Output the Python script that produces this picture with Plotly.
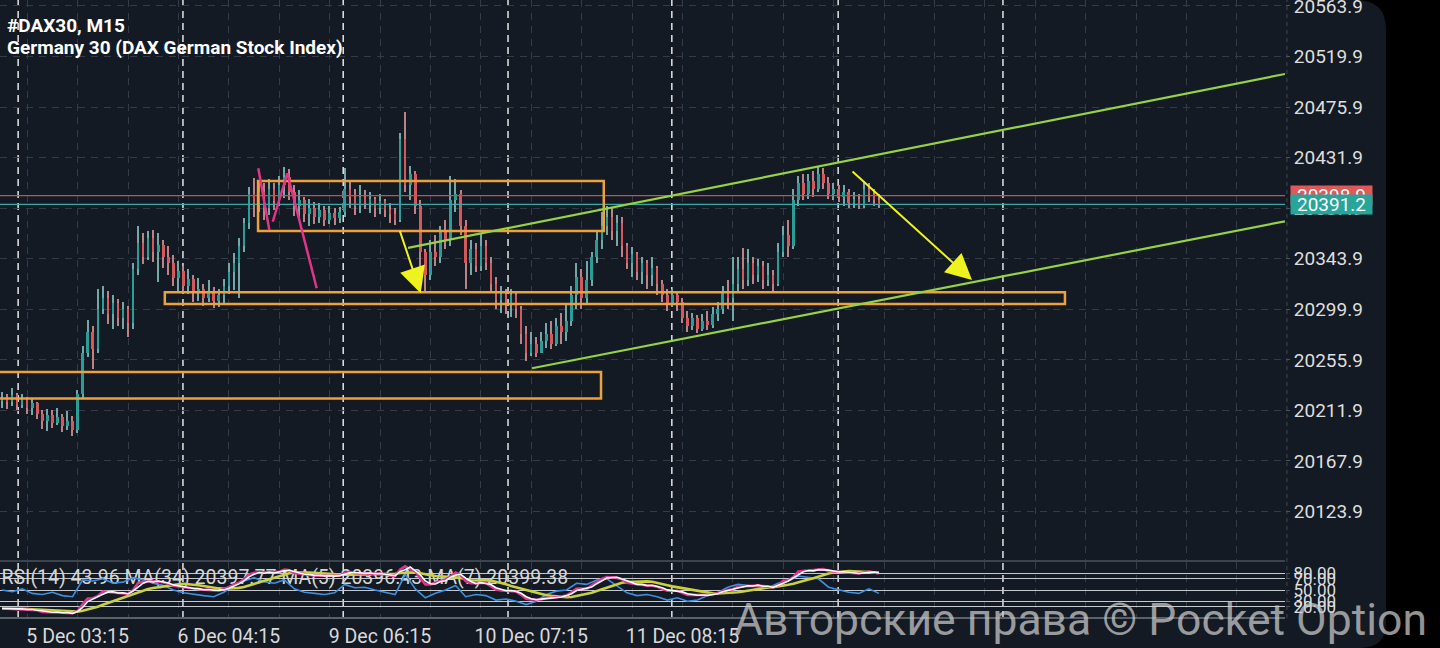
import plotly.graph_objects as go
import pandas as pd

# ---------------- DATA ----------------
first_open = 20220.0
close = [
    20222, 20219, 20225, 20217, 20221,
    20214, 20218, 20209, 20203, 20208,
    20201, 20206, 20198, 20203, 20195,
    20226, 20262, 20280, 20265, 20300,
    20310, 20296, 20305, 20292, 20300,
    20288, 20335, 20358, 20345, 20362,
    20350, 20356, 20345, 20340, 20327,
    20333, 20320, 20326, 20314, 20318,
    20310, 20316, 20307, 20312, 20320,
    20332, 20340, 20355, 20375, 20400,
    20392, 20402, 20388, 20405, 20394,
    20408, 20415, 20402, 20390, 20395,
    20383, 20388, 20380, 20386, 20378,
    20384, 20379, 20385, 20405, 20398,
    20390, 20398, 20392, 20396, 20388,
    20394, 20386, 20383, 20378, 20448,
    20408, 20418, 20390, 20350, 20330,
    20350, 20345, 20368, 20360, 20395,
    20400, 20372, 20340, 20352, 20338,
    20355, 20340, 20322, 20308, 20313,
    20305, 20312, 20300, 20278, 20262,
    20270, 20262, 20272, 20278, 20270,
    20285, 20280, 20290, 20312, 20328,
    20310, 20325, 20345, 20360, 20372,
    20380, 20368, 20375, 20355, 20340,
    20348, 20332, 20340, 20330, 20336,
    20322, 20312, 20305, 20312, 20306,
    20292, 20285, 20292, 20283, 20290,
    20286, 20296, 20300, 20315, 20310,
    20322, 20335, 20325, 20340, 20330,
    20338, 20325, 20330, 20322, 20350,
    20365, 20355, 20395, 20410, 20400,
    20412, 20405, 20418, 20410, 20400,
    20405, 20398, 20402, 20392, 20396,
    20390, 20405, 20400, 20395, 20391.2,
]
high = [
    20228, 20226, 20231, 20227, 20226,
    20224, 20222, 20219, 20212, 20213,
    20212, 20214, 20209, 20211, 20207,
    20230, 20268, 20291, 20285, 20318,
    20320, 20316, 20312, 20309, 20306,
    20303, 20340, 20372, 20366, 20368,
    20369, 20366, 20360, 20355, 20347,
    20342, 20338, 20335, 20330, 20327,
    20322, 20325, 20319, 20318, 20326,
    20340, 20349, 20362, 20379, 20406,
    20414, 20412, 20410, 20413, 20410,
    20416, 20424, 20422, 20408, 20404,
    20398, 20396, 20393, 20392, 20390,
    20390, 20388, 20389, 20423, 20412,
    20405, 20408, 20404, 20402, 20398,
    20400, 20396, 20392, 20388, 20453,
    20472, 20425, 20420, 20395, 20352,
    20360, 20365, 20372, 20378, 20416,
    20413, 20404, 20378, 20360, 20358,
    20366, 20360, 20345, 20328, 20320,
    20318, 20318, 20315, 20303, 20285,
    20280, 20276, 20280, 20288, 20290,
    20292, 20297, 20304, 20320, 20340,
    20335, 20342, 20350, 20368, 20385,
    20390, 20388, 20382, 20380, 20358,
    20354, 20350, 20345, 20343, 20345,
    20338, 20325, 20318, 20318, 20316,
    20310, 20298, 20297, 20295, 20296,
    20298, 20302, 20306, 20320, 20325,
    20345, 20345, 20353, 20352, 20345,
    20344, 20342, 20340, 20334, 20358,
    20372, 20378, 20405, 20416, 20418,
    20418, 20420, 20424, 20423, 20415,
    20410, 20408, 20408, 20405, 20402,
    20400, 20412, 20410, 20405, 20400,
]
low = [
    20214, 20213, 20216, 20212, 20214,
    20209, 20208, 20204, 20196, 20194,
    20197, 20199, 20193, 20195, 20190,
    20192, 20222, 20258, 20248, 20262,
    20296, 20287, 20283, 20285, 20283,
    20276, 20283, 20330, 20339, 20343,
    20341, 20324, 20336, 20330, 20320,
    20315, 20314, 20313, 20306, 20307,
    20303, 20306, 20301, 20302, 20304,
    20313, 20317, 20310, 20350, 20370,
    20380, 20385, 20378, 20382, 20386,
    20390, 20397, 20395, 20381, 20378,
    20376, 20372, 20374, 20375, 20372,
    20374, 20373, 20375, 20380, 20388,
    20382, 20384, 20387, 20384, 20380,
    20383, 20380, 20375, 20373, 20376,
    20402, 20395, 20383, 20335, 20314,
    20325, 20338, 20340, 20352, 20355,
    20385, 20365, 20318, 20330, 20332,
    20333, 20334, 20315, 20300, 20297,
    20296, 20293, 20292, 20270, 20255,
    20259, 20258, 20262, 20266, 20265,
    20268, 20270, 20272, 20285, 20300,
    20300, 20305, 20320, 20340, 20352,
    20365, 20360, 20355, 20345, 20335,
    20328, 20325, 20322, 20318, 20320,
    20312, 20306, 20298, 20302, 20298,
    20288, 20280, 20282, 20279, 20281,
    20282, 20284, 20290, 20296, 20300,
    20290, 20315, 20318, 20320, 20322,
    20324, 20318, 20320, 20315, 20320,
    20345, 20345, 20352, 20390, 20395,
    20396, 20398, 20402, 20405, 20396,
    20395, 20393, 20390, 20388, 20388,
    20387, 20388, 20393, 20390, 20388,
]
# RSI(14) read every second bar
rsi = [
    50, 47, 52, 44, 42, 46, 40, 38,
    68, 66, 70, 62, 64, 72, 68, 62,
    58, 50, 45, 42, 40, 38, 46, 58,
    66, 72, 65, 62, 68, 52, 46, 44,
    42, 45, 60, 54, 55, 50, 46, 42,
    78, 52, 36, 44, 50, 58, 38, 42,
    40, 32, 34, 30, 24, 30, 42, 48,
    50, 62, 60, 68, 70, 58, 45, 40,
    42, 38, 32, 36, 30, 32, 40, 45,
    55, 60, 58, 56, 54, 62, 66, 75,
    72, 70, 55, 50, 46, 44, 52, 43.96,
]
price_ticks = [20123.9, 20167.9, 20211.9, 20255.9, 20299.9, 20343.9,
               20387.9, 20431.9, 20475.9, 20519.9, 20563.9]
rsi_levels = [20, 30, 50, 70, 80]
time_tick_idx = [15, 45, 75, 105, 135]
time_tick_labels = ["5 Dec 03:15", "6 Dec 04:15", "9 Dec 06:15",
                    "10 Dec 07:15", "11 Dec 08:15"]
grid_idx = [5 + 10 * k for k in range(25)]
period_sep_idx = [3.2, 35.9, 67.7, 100.4, 132.9, 165.9, 198.6]
bid_price = 20391.2
ask_price = 20398.9
caption = "RSI(14) 43.96 MA(34) 20397.77 MA(5) 20396.43 MA(7) 20399.38"

# user drawings (bar index, price)
boxes = [(50.8, 119.4, 20368.1, 20411.6),
         (32.3, 210.9, 20304.5, 20314.7),
         (-1.4, 118.85, 20222.3, 20245.3)]
green_lines = [(80.56, 20353.3, 254.56, 20504.7),
               (105.16, 20248.6, 254.56, 20376.5)]
pink_lines = [(50.85, 20422.6, 53.04, 20368.9),
              (53.71, 20376.1, 56.61, 20418.3),
              (56.61, 20418.3, 62.44, 20318.2)]
arrows = [(78.83, 20369.5, 83.08, 20313.8),
          (168.45, 20421.1, 192.46, 20325.4)]

# ---------------- BUILD ----------------
W, H = 1440, 648
PLOT_W, PLOT_H = 1285, 618
FONT = 'Roboto'
def px_x(x):
    return x / PLOT_W
def px_y(y):
    return (PLOT_H - y) / PLOT_H

n = len(close)
idx = list(range(n))
opens = [first_open] + close[:-1]
hi = [max(h, o, c) for h, o, c in zip(high, opens, close)]
lo = [min(l, o, c) for l, o, c in zip(low, opens, close)]
up = [c >= o for o, c in zip(opens, close)]
body_col = ['#2a9d98' if u else '#d4585c' for u in up]
wick_col = ['#74a8a7' if u else '#bd8285' for u in up]

s = pd.Series(close, dtype=float)
ma34 = s.rolling(11, min_periods=1).mean().tolist()
ma5 = s.rolling(2, min_periods=1).mean().tolist()
ma7 = s.rolling(3, min_periods=1).mean().tolist()

fig = go.Figure()
fig.add_trace(go.Bar(x=idx, base=lo, y=[h - l for h, l in zip(hi, lo)], width=0.26,
                     marker=dict(color=wick_col, line_width=0), hoverinfo='skip',
                     xaxis='x', yaxis='y'))
fig.add_trace(go.Bar(x=idx, base=[min(o, c) for o, c in zip(opens, close)],
                     y=[max(abs(c - o), 0.8) for o, c in zip(opens, close)], width=0.5,
                     marker=dict(color=body_col, line_width=0), hoverinfo='skip',
                     xaxis='x', yaxis='y'))
fig.add_trace(go.Scatter(x=[-0.1], y=[69.5], mode='text', text=[caption],
                         textposition='middle right',
                         textfont=dict(family=FONT, size=19.5, color='#d6d6d6'),
                         xaxis='x2', yaxis='y2', hoverinfo='skip'))
fig.add_trace(go.Scatter(x=list(range(0, 2 * len(rsi), 2)), y=rsi, mode='lines',
                         line=dict(color='#3d8fe0', width=1.6), xaxis='x2', yaxis='y2'))
fig.add_trace(go.Scatter(x=idx, y=ma34, mode='lines', line=dict(color='#c9d23c', width=2.6),
                         xaxis='x2', yaxis='y3'))
fig.add_trace(go.Scatter(x=idx, y=ma5, mode='lines', line=dict(color='#d9368c', width=2.6),
                         xaxis='x2', yaxis='y3'))
fig.add_trace(go.Scatter(x=idx, y=ma7, mode='lines', line=dict(color='#ffffff', width=1.6),
                         xaxis='x2', yaxis='y3'))

shapes = []
# dark rounded panel
pts = [(0, 0), (1356, 0), (1386, 0), (1386, 30), (1386, 622), (1386, 648), (1360, 648), (0, 648)]
P = [(px_x(a), px_y(b)) for a, b in pts]
path = ("M {0[0]},{0[1]} L {1[0]},{1[1]} Q {2[0]},{2[1]} {3[0]},{3[1]} L {4[0]},{4[1]} "
        "Q {5[0]},{5[1]} {6[0]},{6[1]} L {7[0]},{7[1]} Z").format(*P)
shapes.append(dict(type='path', path=path, xref='paper', yref='paper',
                   fillcolor='#131a23', line=dict(width=0), layer='below'))
for sx in period_sep_idx:
    shapes.append(dict(type='line', xref='x', yref='paper', x0=sx, x1=sx, y0=0, y1=1,
                       line=dict(color='#e4e4e4', width=1.5, dash='7px,5px'), layer='below'))
# panel borders
shapes.append(dict(type='line', xref='paper', yref='paper', x0=0, x1=1, y0=px_y(561), y1=px_y(561),
                   line=dict(color='#4a525d', width=1.5)))
shapes.append(dict(type='line', xref='paper', yref='paper', x0=0, x1=1, y0=px_y(618), y1=px_y(618),
                   line=dict(color='#59616b', width=2)))
shapes.append(dict(type='line', xref='paper', yref='paper', x0=1.0015, x1=1.0015, y0=0, y1=1,
                   line=dict(color='#3e4752', width=1, dash='4px,4px')))
# bid / ask lines
shapes.append(dict(type='line', xref='paper', yref='y', x0=0, x1=1, y0=ask_price, y1=ask_price,
                   line=dict(color='#c4504f', width=1.2)))
shapes.append(dict(type='line', xref='paper', yref='y', x0=0, x1=1, y0=bid_price, y1=bid_price,
                   line=dict(color='#3aa6a6', width=1.2)))
for x0, x1, y0, y1 in boxes:
    shapes.append(dict(type='rect', xref='x', yref='y', x0=x0, x1=x1, y0=y0, y1=y1,
                       line=dict(color='#eea03a', width=2.5), fillcolor='rgba(0,0,0,0)'))
for x0, y0, x1, y1 in green_lines:
    shapes.append(dict(type='line', xref='x', yref='y', x0=x0, y0=y0, x1=x1, y1=y1,
                       line=dict(color='#97d243', width=2.2)))
for x0, y0, x1, y1 in pink_lines:
    shapes.append(dict(type='line', xref='x', yref='y', x0=x0, y0=y0, x1=x1, y1=y1,
                       line=dict(color='#e2358a', width=2.5)))

annotations = []
annotations.append(dict(text='<b>#DAX30, M15</b>', xref='paper', yref='paper', x=px_x(5), y=px_y(25),
                        xanchor='left', yanchor='middle', showarrow=False,
                        font=dict(family=FONT, size=19, color='#ffffff')))
annotations.append(dict(text='<b>Germany 30 (DAX German Stock Index)</b>', xref='paper', yref='paper',
                        x=px_x(5), y=px_y(48), xanchor='left', yanchor='middle', showarrow=False,
                        font=dict(family=FONT, size=19, color='#ffffff')))
for tx, ty, hx, hy in arrows:
    annotations.append(dict(x=hx, y=hy, ax=tx, ay=ty, xref='x', yref='y', axref='x', ayref='y',
                            text='', showarrow=True, arrowhead=2, arrowsize=2.6, arrowwidth=2,
                            arrowcolor='#eef21e', standoff=0))
annotations.append(dict(text=f'{ask_price:.1f}', xref='paper', yref='y', x=px_x(1290), y=ask_price,
                        xanchor='left', yanchor='middle', showarrow=False, width=81, height=19,
                        bgcolor='#e0585a', borderpad=0,
                        font=dict(family=FONT, size=19, color='#ffffff')))
annotations.append(dict(text=f'{bid_price:.1f}', xref='paper', yref='y', x=px_x(1290), y=bid_price,
                        xanchor='left', yanchor='middle', showarrow=False, width=81, height=19,
                        bgcolor='#27a59a', borderpad=0,
                        font=dict(family=FONT, size=19, color='#ffffff')))
annotations.append(dict(text='Авторские права © Pocket Option', xref='paper', yref='paper',
                        x=px_x(1080), y=px_y(620), xanchor='center', yanchor='middle', showarrow=False,
                        font=dict(family=FONT, size=44.5, color='rgba(205,205,205,0.72)')))

grid_kw = dict(showgrid=True, gridcolor='#333b46', gridwidth=1, griddash='7px,6px',
               zeroline=False, showline=False, automargin=False)
tick_text = [time_tick_labels[time_tick_idx.index(g)] if g in time_tick_idx else '' for g in grid_idx]

fig.update_layout(
    width=W, height=H, margin=dict(l=0, r=W - PLOT_W, t=0, b=H - PLOT_H, autoexpand=False),
    paper_bgcolor='#000000', plot_bgcolor='rgba(0,0,0,0)',
    showlegend=False, barmode='overlay', bargap=0,
    font=dict(family=FONT, color='#d9d9d9'),
    xaxis=dict(domain=[0, 1], range=[-0.4, 254.56], anchor='y', tickvals=grid_idx,
               showticklabels=False, ticks='', **grid_kw),
    xaxis2=dict(domain=[0, 1], matches='x', anchor='y2', tickvals=grid_idx, ticktext=tick_text,
                ticks='outside', ticklen=1, tickcolor='rgba(0,0,0,0)',
                tickfont=dict(family=FONT, size=19.5, color='#d9d9d9'), **grid_kw),
    yaxis=dict(domain=[px_y(560), 1], range=[20081.7, 20569.1], side='right', anchor='x',
               tickvals=price_ticks, ticktext=[f'{v:.1f}' for v in price_ticks],
               ticks='outside', ticklen=4, tickcolor='#4b5360', ticklabeloverflow='allow',
               tickfont=dict(family=FONT, size=19, color='#dedede'), **grid_kw),
    yaxis2=dict(domain=[0, px_y(562)], range=[0, 100], side='right', anchor='x2',
                tickvals=rsi_levels, ticktext=[f'{v:.2f}' for v in rsi_levels],
                ticks='outside', ticklen=4, tickcolor='#4b5360', ticklabeloverflow='allow',
                tickfont=dict(family=FONT, size=17, color='#dedede'), automargin=False,
                showgrid=True, gridcolor='#c5c9ce', gridwidth=1, zeroline=False, showline=False),
    yaxis3=dict(overlaying='y2', range=[20176, 20449], side='left', anchor='x2', automargin=False,
                showgrid=False, showticklabels=False, zeroline=False, showline=False, ticks=''),
    shapes=shapes, annotations=annotations,
)

fig.write_html('out.html', config={'displayModeBar': False},
               post_script="document.body.style.margin='0';document.body.style.background='#000';")
